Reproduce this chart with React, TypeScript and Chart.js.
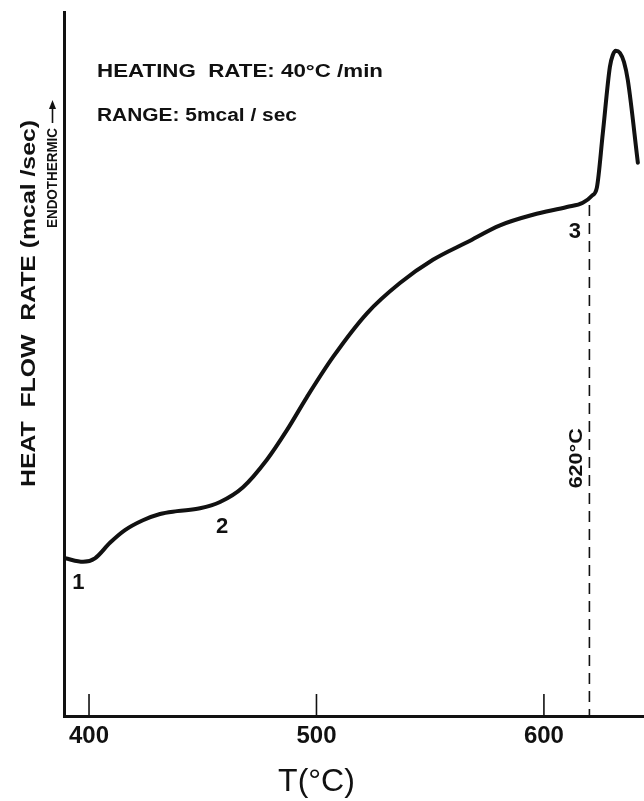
import React, { useEffect, useRef } from "react";
import { Chart, registerables } from "chart.js";

Chart.register(...registerables);

// Temperature (°C) of each traced point on the DSC curve
const temps = [
  389.5, 397.4, 402.6, 409.2, 415.8, 423.7, 431.2, 438.7, 448.8, 457.6,
  467.7, 478.2, 487.0, 495.8, 507.3, 522.2, 536.7, 551.2, 566.2, 580.7,
  595.2, 610.1, 617.1, 621.1, 623.3, 625.9, 629.0, 630.3, 631.6, 633.4,
  635.2, 636.9, 641.3,
];
// Heat flow rate (relative units, endothermic up)
const heatFlow = [
  22.4, 21.9, 22.4, 24.6, 26.4, 27.8, 28.7, 29.1, 29.5, 30.4,
  32.5, 36.4, 40.6, 45.3, 51.0, 57.2, 61.5, 64.8, 67.3, 69.7,
  71.2, 72.3, 72.9, 73.9, 75.1, 82.8, 92.2, 93.9, 94.5, 94.2,
  92.9, 90.3, 78.6,
];
const xTickValues = [400, 500, 600];
const xMin = 389;
const xMax = 644;
const markerTemp = 620;
const markerTop = 72.6;
const pointLabels = ["1", "2", "3"];
const pointLabelTemps = [395.3, 458.5, 613.6];
const pointLabelValues = [18.9, 26.8, 68.8];
const infoLines = ["HEATING  RATE: 40°C /min", "RANGE: 5mcal / sec"];
const yTitle = "HEAT  FLOW  RATE (mcal /sec)";
const yNote = "ENDOTHERMIC";
const xTitle = "T(°C)";
const markerLabel = "620°C";

const INK = "#111";

function fitText(ctx: CanvasRenderingContext2D, text: string, x: number, y: number, width: number) {
  const w = ctx.measureText(text).width;
  ctx.save();
  ctx.translate(x, y);
  ctx.scale(width / w, 1);
  ctx.fillText(text, 0, 0);
  ctx.restore();
}

const annotations = {
  id: "annotations",
  afterDraw(chart: any) {
    const ctx: CanvasRenderingContext2D = chart.ctx;
    const xs = chart.scales.x;
    const ys = chart.scales.y;
    ctx.save();
    ctx.fillStyle = INK;
    ctx.strokeStyle = INK;

    // inner tick marks
    ctx.lineWidth = 1.6;
    xTickValues.forEach((t) => {
      const px = xs.getPixelForValue(t);
      ctx.beginPath();
      ctx.moveTo(px, ys.bottom);
      ctx.lineTo(px, ys.bottom - 22);
      ctx.stroke();
    });

    // info text
    ctx.textAlign = "left";
    ctx.textBaseline = "middle";
    ctx.font = "bold 18px 'Liberation Sans'";
    fitText(ctx, infoLines[0], 97, 72, 286);
    fitText(ctx, infoLines[1], 97, 116, 200);

    // point labels
    ctx.textAlign = "center";
    ctx.font = "bold 22px 'Liberation Sans'";
    pointLabels.forEach((lab, i) => {
      ctx.fillText(
        lab,
        xs.getPixelForValue(pointLabelTemps[i]),
        ys.getPixelForValue(pointLabelValues[i])
      );
    });

    // rotated marker label
    ctx.save();
    ctx.translate(xs.getPixelForValue(markerTemp) - 13, ys.getPixelForValue(36.6));
    ctx.rotate(-Math.PI / 2);
    ctx.textAlign = "left";
    ctx.font = "bold 19px 'Liberation Sans'";
    fitText(ctx, markerLabel, -30, 0, 60);
    ctx.restore();

    // y title
    ctx.save();
    ctx.translate(29, 303.5);
    ctx.rotate(-Math.PI / 2);
    ctx.textAlign = "left";
    ctx.font = "bold 20px 'Liberation Sans'";
    fitText(ctx, yTitle, -183.5, 0, 367);
    ctx.restore();

    // endothermic note + arrow
    ctx.save();
    ctx.translate(52.5, 178);
    ctx.rotate(-Math.PI / 2);
    ctx.textAlign = "left";
    ctx.font = "bold 15px 'Liberation Sans'";
    fitText(ctx, yNote, -50, 0, 100);
    ctx.lineWidth = 1.6;
    ctx.beginPath();
    ctx.moveTo(55, 0);
    ctx.lineTo(74, 0);
    ctx.stroke();
    ctx.beginPath();
    ctx.moveTo(78, 0);
    ctx.lineTo(69, -3.5);
    ctx.lineTo(69, 3.5);
    ctx.closePath();
    ctx.fill();
    ctx.restore();

    // x title
    ctx.textAlign = "center";
    ctx.textBaseline = "middle";
    ctx.font = "32px 'Liberation Sans'";
    ctx.fillText(xTitle, xs.getPixelForValue(500), 782);

    ctx.restore();
  },
};

export default function App() {
  const ref = useRef<HTMLCanvasElement | null>(null);
  useEffect(() => {
    if (!ref.current) return;
    const chart = new Chart(ref.current, {
      type: "line",
      data: {
        datasets: [
          {
            data: temps.map((t, i) => ({ x: t, y: heatFlow[i] })),
            borderColor: INK,
            borderWidth: 4,
            pointRadius: 0,
            cubicInterpolationMode: "monotone",
            borderCapStyle: "round",
            borderJoinStyle: "round",
            fill: false,
          },
          {
            data: [
              { x: markerTemp, y: markerTop },
              { x: markerTemp, y: 0 },
            ],
            borderColor: INK,
            borderWidth: 1.6,
            borderDash: [11, 7],
            pointRadius: 0,
            tension: 0,
            fill: false,
          },
        ],
      },
      options: {
        responsive: false,
        animation: false,
        events: [],
        layout: { padding: { left: 64, top: 12, right: 0, bottom: 0 } },
        plugins: { legend: { display: false }, tooltip: { enabled: false } },
        scales: {
          x: {
            type: "linear",
            min: xMin,
            max: xMax,
            afterBuildTicks: (s: any) => {
              s.ticks = xTickValues.map((v) => ({ value: v }));
            },
            afterFit: (s: any) => {
              s.height = 85;
            },
            grid: { display: false, drawTicks: false },
            border: { display: true, width: 3, color: INK },
            ticks: {
              color: INK,
              padding: 6,
              maxRotation: 0,
              font: { family: "'Liberation Sans'", size: 24, weight: "bold" },
            },
          },
          y: {
            type: "linear",
            min: 0,
            max: 100,
            afterFit: (s: any) => {
              s.width = 0;
            },
            grid: { display: false, drawTicks: false },
            border: { display: true, width: 3, color: INK },
            ticks: { display: false },
          },
        },
      },
      plugins: [annotations],
    });
    return () => chart.destroy();
  }, []);
  return (
    <div style={{ position: "absolute", left: 0, top: 0, width: 644, height: 801, background: "#fff" }}>
      <canvas ref={ref} width={644} height={801} />
    </div>
  );
}
